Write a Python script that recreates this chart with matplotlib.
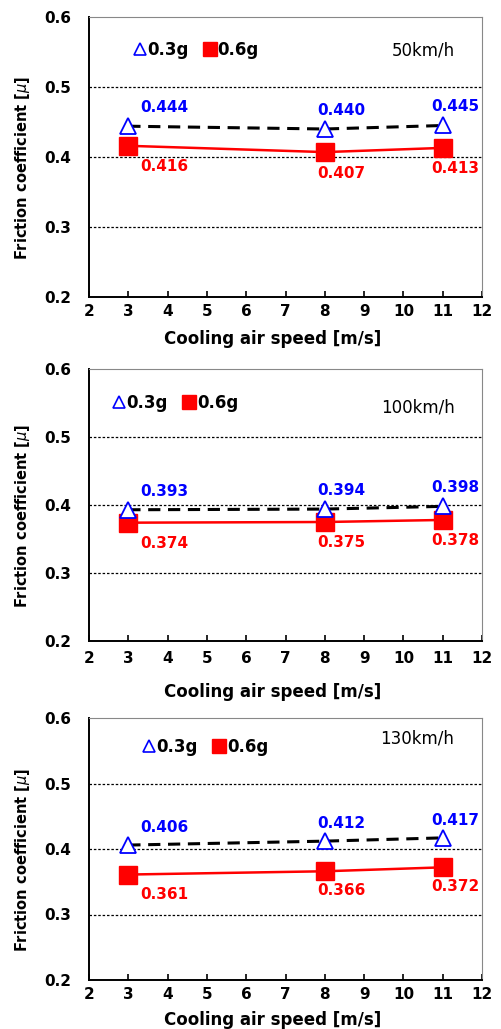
import matplotlib
matplotlib.use("Agg")
import matplotlib.pyplot as plt
from matplotlib.lines import Line2D

# Data
speeds = [3, 8, 11]
panel_titles = ["50km/h", "100km/h", "130km/h"]
mu_03g = [[0.444, 0.440, 0.445],
          [0.393, 0.394, 0.398],
          [0.406, 0.412, 0.417]]
mu_06g = [[0.416, 0.407, 0.413],
          [0.374, 0.375, 0.378],
          [0.361, 0.366, 0.372]]
xticks = list(range(2, 13))
yticks = [0.2, 0.3, 0.4, 0.5, 0.6]

W, H = 502, 1029
fig = plt.figure(figsize=(W / 100, H / 100), dpi=100)

# axes boxes in pixel coords: (top, bottom)
boxes = [(17, 297), (369, 641), (718, 980)]
left_px, right_px = 89, 482

blue_dx = [0.3, -0.2, -0.3]
red_dx = [0.3, -0.2, -0.3]
legend_xy = [(0.112, 0.882), (0.059, 0.875), (0.135, 0.89)]
title_y = [0.88, 0.857, 0.92]
xlabel_y = [-0.118, -0.154, -0.119]
xtick_pad = [5, 7, 5]

for i, (top, bot) in enumerate(boxes):
    ax = fig.add_axes([left_px / W, 1 - bot / H, (right_px - left_px) / W, (bot - top) / H])
    ax.set_xlim(2, 12)
    ax.set_ylim(0.2, 0.6)
    for yv in [0.3, 0.4, 0.5]:
        ax.axhline(yv, color="black", lw=0.9, ls=(0, (2, 1.5)), zorder=1)
    ax.plot(speeds, mu_03g[i], color="black", lw=2.2, ls=(0, (4, 2.5)), zorder=2)
    ax.plot(speeds, mu_03g[i], ls="none", marker="^", ms=11, mfc="white",
            mec="blue", mew=1.3, zorder=4)
    ax.plot(speeds, mu_06g[i], color="red", lw=1.8, marker="s", ms=13,
            mfc="red", mec="red", zorder=3)
    for j, x in enumerate(speeds):
        ax.text(x + blue_dx[j], mu_03g[i][j] + 0.027, f"{mu_03g[i][j]:.3f}",
                color="blue", fontsize=11, fontweight="bold", ha="left", va="center")
        ax.text(x + red_dx[j], mu_06g[i][j] - 0.03, f"{mu_06g[i][j]:.3f}",
                color="red", fontsize=11, fontweight="bold", ha="left", va="center")
    ax.set_xticks(xticks)
    ax.set_yticks(yticks)
    ax.set_yticklabels([f"{v:.1f}" for v in yticks])
    ax.tick_params(axis="x", direction="in", length=4, width=1.2, labelsize=11, pad=xtick_pad[i])
    ax.tick_params(axis="y", length=0, labelsize=11, pad=13)
    for lab in ax.get_xticklabels() + ax.get_yticklabels():
        lab.set_fontweight("bold")
    ax.spines["left"].set_linewidth(1.4)
    ax.spines["bottom"].set_linewidth(1.4)
    ax.spines["top"].set_color("#888888")
    ax.spines["right"].set_color("#888888")
    ax.set_xlabel("Cooling air speed [m/s]", fontsize=12, fontweight="bold")
    ax.xaxis.set_label_coords(0.466, xlabel_y[i])
    ax.set_ylabel("Friction coefficient [$\\mu$]", fontsize=10.5, fontweight="bold")
    ax.yaxis.set_label_coords(-0.145, 0.46)
    handles = [Line2D([], [], ls="none", marker="^", ms=9, mfc="white", mec="blue", mew=1.2),
               Line2D([], [], ls="none", marker="s", ms=10, mfc="red", mec="red")]
    ax.legend(handles, ["0.3g", "0.6g"], ncol=2, frameon=False, loc="center left",
              bbox_to_anchor=legend_xy[i], borderpad=0, borderaxespad=0,
              handletextpad=0.05, columnspacing=0.9, handlelength=0.8,
              prop={"weight": "bold", "size": 12})
    ax.text(0.93, title_y[i], panel_titles[i], transform=ax.transAxes, fontsize=12,
            ha="right", va="center")

fig.savefig("out.png", dpi=100)
